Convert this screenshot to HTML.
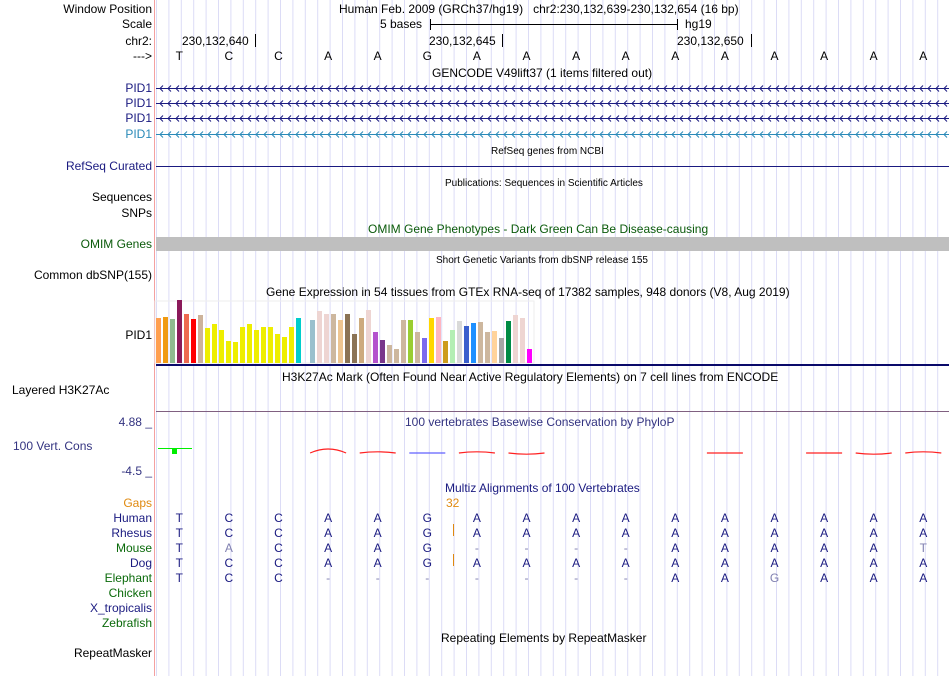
<!DOCTYPE html>
<html><head><meta charset="utf-8">
<style>
body{margin:0;width:950px;height:676px;background:#fff;position:relative;overflow:hidden;font-family:"Liberation Sans",sans-serif;font-size:12px;}
.t{position:absolute;white-space:nowrap;line-height:14px;}
.l{position:absolute;right:798px;text-align:right;white-space:nowrap;line-height:14px;}
svg{position:absolute;left:0;top:0;}
</style></head><body>
<svg id="bg" width="950" height="676"></svg>

<div class="l" style="top:2px">Window Position</div>
<div class="l" style="top:17px">Scale</div>
<div class="l" style="top:34px">chr2:</div>
<div class="l" style="top:49px">---&gt;</div>
<div class="l" style="top:81px;color:#1a1a80">PID1</div>
<div class="l" style="top:96px;color:#1a1a80">PID1</div>
<div class="l" style="top:111px;color:#1a1a80">PID1</div>
<div class="l" style="top:127px;color:#2a8ab8">PID1</div>
<div class="l" style="top:159px;color:#1a1a80">RefSeq Curated</div>
<div class="l" style="top:190px">Sequences</div>
<div class="l" style="top:206px">SNPs</div>
<div class="l" style="top:237px;color:#0a5a0a">OMIM Genes</div>
<div class="l" style="top:268px">Common dbSNP(155)</div>
<div class="l" style="top:328px">PID1</div>
<div class="t" style="top:383px;left:12px">Layered H3K27Ac</div>
<div class="l" style="top:415px;color:#333380">4.88 _</div>
<div class="t" style="top:439px;left:13px;color:#333380">100 Vert. Cons</div>
<div class="l" style="top:464px;color:#333380">-4.5 _</div>
<div class="l" style="top:496px;color:#e08a10">Gaps</div>
<div class="l" style="top:511px;color:#1a1a80">Human</div>
<div class="l" style="top:526px;color:#1a1a80">Rhesus</div>
<div class="l" style="top:541px;color:#0a6a0a">Mouse</div>
<div class="l" style="top:556px;color:#1a1a80">Dog</div>
<div class="l" style="top:571px;color:#0a6a0a">Elephant</div>
<div class="l" style="top:586px;color:#0a6a0a">Chicken</div>
<div class="l" style="top:601px;color:#1a1a80">X_tropicalis</div>
<div class="l" style="top:616px;color:#0a6a0a">Zebrafish</div>
<div class="l" style="top:646px">RepeatMasker</div>

<div class="t" style="top:2px;left:339px">Human Feb. 2009 (GRCh37/hg19)&nbsp;&nbsp; chr2:230,132,639-230,132,654 (16 bp)</div>
<div class="t" style="top:17px;left:380px">5 bases</div>
<div class="t" style="top:17px;left:685px">hg19</div>
<div class="t" style="top:34px;left:182px">230,132,640</div>
<div class="t" style="top:34px;left:429px">230,132,645</div>
<div class="t" style="top:34px;left:677px">230,132,650</div>
<div class="t" style="top:66px;left:432px">GENCODE V49lift37 (1 items filtered out)</div>
<div class="t" style="top:145px;left:491px;font-size:10px">RefSeq genes from NCBI</div>
<div class="t" style="top:177px;left:445px;font-size:10px">Publications: Sequences in Scientific Articles</div>
<div class="t" style="top:222px;left:368px;color:#0a5a0a">OMIM Gene Phenotypes - Dark Green Can Be Disease-causing</div>
<div class="t" style="top:254px;left:436px;font-size:10px">Short Genetic Variants from dbSNP release 155</div>
<div class="t" style="top:285px;left:266px">Gene Expression in 54 tissues from GTEx RNA-seq of 17382 samples, 948 donors (V8, Aug 2019)</div>
<div class="t" style="top:370px;left:282px">H3K27Ac Mark (Often Found Near Active Regulatory Elements) on 7 cell lines from ENCODE</div>
<div class="t" style="top:415px;left:405px;color:#333380">100 vertebrates Basewise Conservation by PhyloP</div>
<div class="t" style="top:481px;left:445px;color:#1a1a80">Multiz Alignments of 100 Vertebrates</div>
<div class="t" style="top:496px;left:446px;color:#e08a10">32</div>
<div class="t" style="top:631px;left:441px">Repeating Elements by RepeatMasker</div>

<div id="bases"></div>
<svg id="fg" width="950" height="676"></svg>

<script>
const NS="http://www.w3.org/2000/svg";
const refBases=["T","C","C","A","A","G","A","A","A","A","A","A","A","A","A","A"];
const rhesus =["T","C","C","A","A","G","A","A","A","A","A","A","A","A","A","A"];
const mouse  =["T","A","C","A","A","G","-","-","-","-","A","A","A","A","A","T"];
const dog    =["T","C","C","A","A","G","A","A","A","A","A","A","A","A","A","A"];
const elephant=["T","C","C","-","-","-","-","-","-","-","A","A","G","A","A","A"];
const gtexValues=[45,46,44,63,49,44,48,35,39,33,22,21,36,39,33,36,36,29,26,36,45,0,43,52,49,49,43,49,29,45,53,31,23,18,14,43,43,31,25,45,46,22,33,42,37,40,41,31,32,25,42,48,45,14];
const gtexColors=["#ff9f4f","#f09a10","#8fbb8f","#8b1a5a","#ee6a50","#ff0000","#cdb39b","#eeee00","#eeee00","#eeee00","#eeee00","#eeee00","#eeee00","#eeee00","#eeee00","#eeee00","#eeee00","#eeee00","#eeee00","#eeee00","#00cdcd","#dddddd","#9ac0cd","#eed5d2","#eed5d2","#cdb79e","#eec591","#8b7355","#8b7355","#cdaa7d","#eed5d2","#b452cd","#7a378b","#cdb79e","#cdb79e","#cdb79e","#9acd32","#cdb79e","#7b68ee","#ffd700","#ffb6c1","#cd9b1d","#b4eeb4","#d9d9d9","#3a5fcd","#1e90ff","#cdb79e","#cdb79e","#ffd39b","#a6a6a6","#008b45","#eed5d2","#eed5d2","#ff00ff"];
const phyloPos=[3,4,5,6,7,11,13,14,15];
const phyloVal=[0.5,0.15,0,0.15,-0.15,0,0,-0.15,0.15];

const bg=document.getElementById('bg'), fg=document.getElementById('fg');
function mk(p,tag,a){const e=document.createElementNS(NS,tag);for(const k in a)e.setAttribute(k,a[k]);p.appendChild(e);return e;}
for(let k=0;k<64;k++){const x=156.5+12.4*k;const g=mk(bg,'line',{x1:x,x2:x,y1:0,y2:676,stroke:'#dcdcf6','stroke-width':1});

}
mk(bg,'line',{x1:154.5,x2:154.5,y1:0,y2:676,stroke:'#f4a0a0'});
const bx=i=>179.3+49.6*i;
mk(fg,'line',{x1:430,x2:677,y1:24.5,y2:24.5,stroke:'#000'});
mk(fg,'line',{x1:430.5,x2:430.5,y1:19,y2:30,stroke:'#000'});
mk(fg,'line',{x1:677.5,x2:677.5,y1:19,y2:30,stroke:'#000'});
[255,502,751].forEach(x=>mk(fg,'line',{x1:x+.5,x2:x+.5,y1:34,y2:47,stroke:'#000'}));
[[88,'#1a1a80'],[103,'#1a1a80'],[118,'#1a1a80'],[134,'#2a8ab8']].forEach(([y,c])=>{
 mk(fg,'line',{x1:156,x2:949,y1:y+.5,y2:y+.5,stroke:c});
 let d='';for(let x=160;x<949;x+=8)d+=`M${x+3},${y-2.5}L${x},${y+.5}L${x+3},${y+3.5}`;
 mk(fg,'path',{d:d,stroke:c,fill:'none','stroke-width':1});});
mk(fg,'line',{x1:156,x2:949,y1:166.5,y2:166.5,stroke:'#1a1a80'});
mk(fg,'rect',{x:156,y:237,width:793,height:14,fill:'#bfbfbf'});
const base=363, gx=i=>156+7*i;
mk(fg,'rect',{x:155,y:301,width:379,height:62,fill:'none',stroke:'#eee'});
gtexValues.forEach((v,i)=>{const r=mk(fg,'rect',{x:gx(i),y:base-v,width:5,height:v,fill:gtexColors[i]});

});
mk(fg,'rect',{x:156,y:364,width:793,height:2,fill:'#0a0a6a'});
mk(fg,'line',{x1:156,x2:949,y1:411.5,y2:411.5,stroke:'#806080'});
// phyloP
const base0=453, amp=v=>v*16;
mk(fg,'line',{x1:158,x2:192,y1:448.5,y2:448.5,stroke:'#00ee00'});
mk(fg,'rect',{x:172,y:448,width:5,height:6,fill:'#00ee00'});
phyloPos.forEach((p,i)=>{const v=phyloVal[i];const x0=bx(p)-18,x1=bx(p)+18;
 const c=(p===5)?'#6060ff':'#ff2020';
 const pl=mk(fg,'path',{d:`M${x0},${base0}Q${(x0+x1)/2},${base0-amp(v)} ${x1},${base0}`,stroke:c,fill:'none','stroke-width':1.2});
 
 });
[533,563].forEach(y=>mk(fg,'line',{x1:453.5,x2:453.5,y1:y-9,y2:y+3,stroke:'#e08a10'}));
const bdiv=document.getElementById('bases');
function row(arr,top,ref,kind){arr.forEach((b,i)=>{const d=document.createElement('div');d.className='t';
 let col='#1a1a80'; if(kind==='ref')col='#000'; else if(b==='-')col='#8080b0'; else if(ref&&b!==ref[i])col='#8080b0';
 d.style.cssText=`top:${top}px;left:${bx(i)-5}px;width:10px;text-align:center;color:${col}`;
 d.textContent=b;
 
 
 bdiv.appendChild(d);});}
row(refBases,49,null,'ref');
row(refBases,511,null,'human');
row(rhesus,526,refBases,'rhesus');
row(mouse,541,refBases,'mouse');
row(dog,556,refBases,'dog');
row(elephant,571,refBases,'elephant');
</script>
</body></html>
